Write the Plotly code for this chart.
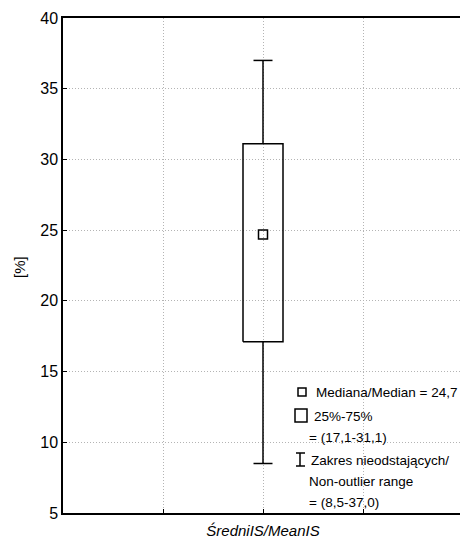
import plotly.graph_objects as go

category = ["ŚredniIS/MeanIS"]
median = [24.7]
q1 = [17.1]
q3 = [31.1]
low = [8.5]
high = [37.0]
y_ticks = [5, 10, 15, 20, 25, 30, 35, 40]

FONT = "Liberation Sans, Arial, sans-serif"
X0 = 2.0
BW = 0.2   # half box width
CW = 0.095 # half cap width

fig = go.Figure()

# box rectangle
fig.add_trace(go.Scatter(
    x=[X0 - BW, X0 + BW, X0 + BW, X0 - BW, X0 - BW],
    y=[q1[0], q1[0], q3[0], q3[0], q1[0]],
    mode="lines", line=dict(color="black", width=1.5), hoverinfo="skip", showlegend=False))
# whiskers
for a, b in [(q3[0], high[0]), (low[0], q1[0])]:
    fig.add_trace(go.Scatter(x=[X0, X0], y=[a, b], mode="lines",
                             line=dict(color="black", width=1.5), showlegend=False))
for c in [high[0], low[0]]:
    fig.add_trace(go.Scatter(x=[X0 - CW, X0 + CW], y=[c, c], mode="lines",
                             line=dict(color="black", width=1.5), showlegend=False))
# median marker
fig.add_trace(go.Scatter(x=[X0], y=median, mode="markers",
                         marker=dict(symbol="square-open", size=9, color="black", line=dict(width=1.5)),
                         showlegend=False))

L, R, T, B = 63, 460, 18, 513
def px(x):
    return (x - L) / (R - L)
def py(y):
    return (B - y) / (B - T)

shapes = [
    dict(type="rect", xref="paper", yref="paper", x0=px(298), x1=px(306), y0=py(396), y1=py(388),
         line=dict(color="black", width=1.5)),
    dict(type="rect", xref="paper", yref="paper", x0=px(295), x1=px(307), y0=py(422), y1=py(409),
         line=dict(color="black", width=1.5)),
    dict(type="line", xref="paper", yref="paper", x0=px(300), x1=px(300), y0=py(466), y1=py(453),
         line=dict(color="black", width=1.5)),
    dict(type="line", xref="paper", yref="paper", x0=px(296), x1=px(305), y0=py(453), y1=py(453),
         line=dict(color="black", width=1.5)),
    dict(type="line", xref="paper", yref="paper", x0=px(296), x1=px(305), y0=py(466), y1=py(466),
         line=dict(color="black", width=1.5)),
]

def fmt(v):
    return f"{v:.1f}".replace(".", ",")

texts = [
    (314, 392, f"Mediana/Median = {fmt(median[0])}"),
    (312, 416, "25%-75%"),
    (307, 437, f"= ({fmt(q1[0])}-{fmt(q3[0])})"),
    (309, 460, "Zakres nieodstających/"),
    (307, 481, "Non-outlier range"),
    (307, 502, f"= ({fmt(low[0])}-{fmt(high[0])})"),
]
annotations = [dict(xref="paper", yref="paper", x=px(x), y=py(y), text=t, showarrow=False,
                    xanchor="left", yanchor="middle", font=dict(family=FONT, size=13.5, color="black"))
               for x, y, t in texts]
annotations.append(dict(xref="paper", yref="paper", x=px(19), y=py(267), text="[%]", textangle=-90,
                        showarrow=False, xanchor="center", yanchor="middle",
                        font=dict(family=FONT, size=15, color="black")))

grid = dict(showgrid=True, gridcolor="#b4b4b4", griddash="1px,2px", gridwidth=1)

fig.update_layout(
    width=460, height=542,
    margin=dict(l=L, r=0, t=T, b=542 - B),
    plot_bgcolor="white", paper_bgcolor="white",
    font=dict(family=FONT, size=15, color="black"),
    shapes=shapes, annotations=annotations, showlegend=False,
    xaxis=dict(range=[0, (R - L) / 100], tickvals=[1, 2, 3], ticktext=["", "<i>" + category[0] + "</i>", ""],
               showline=True, linecolor="black", linewidth=1.5, mirror=True,
               ticks="inside", ticklen=4, tickcolor="black", zeroline=False,
               tickfont=dict(size=15), ticklabelstandoff=3, **grid),
    yaxis=dict(range=[5, 40], tickvals=y_ticks,
               showline=True, linecolor="black", linewidth=1.5, mirror=False,
               ticks="inside", ticklen=4, tickcolor="black", zeroline=False,
               tickfont=dict(size=16), **grid),
    yaxis2=dict(range=[5, 40], tickvals=y_ticks, overlaying="y", side="right", showgrid=False,
                showline=False, ticks="inside", ticklen=3, tickcolor="black", showticklabels=False,
                zeroline=False),
)

fig.write_html("out.html")
